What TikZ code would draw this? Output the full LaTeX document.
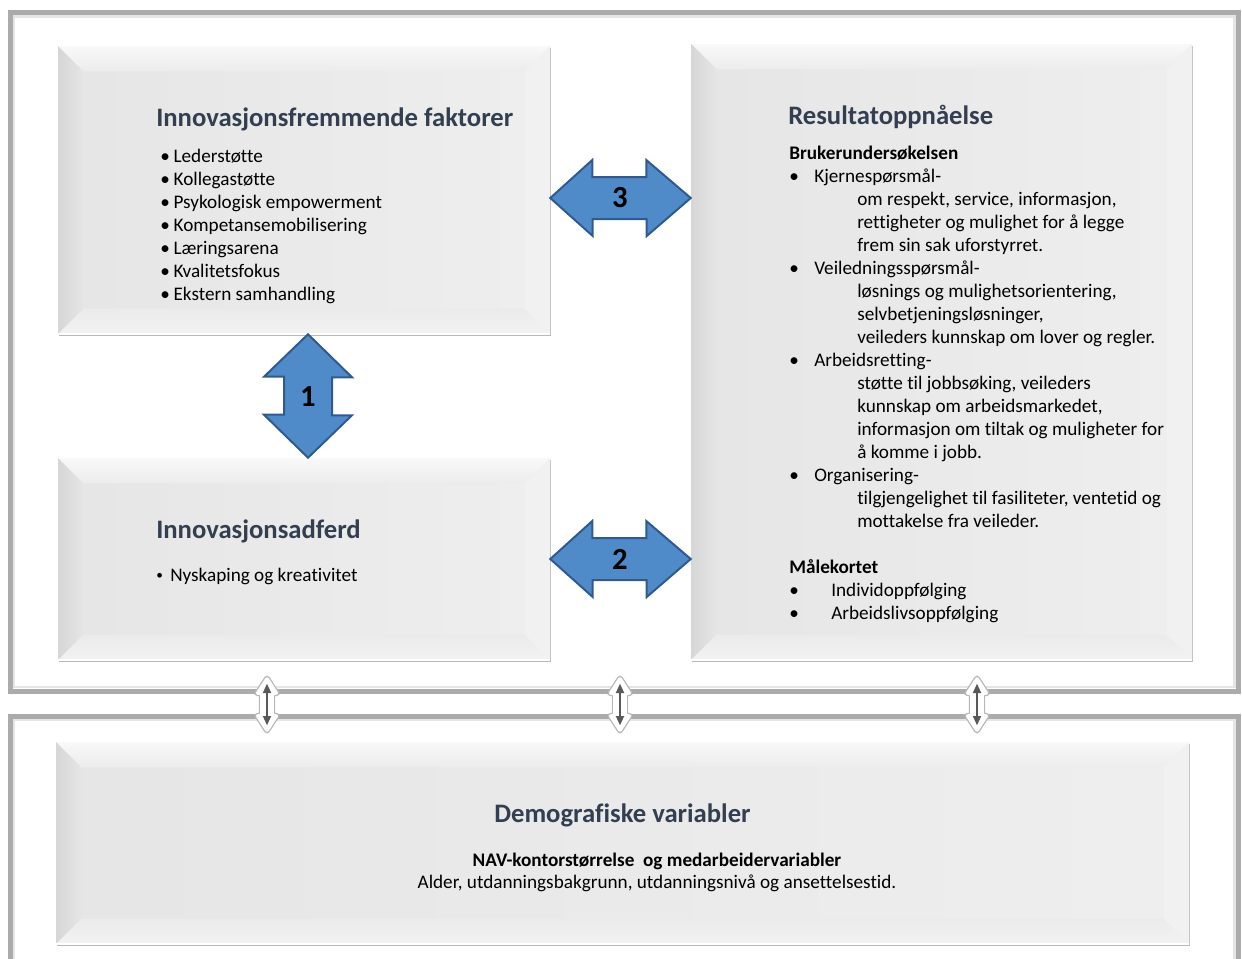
\documentclass[tikz,border=0pt]{standalone}
\usepackage{fontspec}
\setmainfont[Ligatures=NoCommon]{Carlito}
\usetikzlibrary{calc,shadows,arrows.meta}
\definecolor{titlegray}{RGB}{51,63,80}
\definecolor{arrowfill}{RGB}{80,139,201}
\definecolor{arrowedge}{RGB}{48,90,143}
\newcommand{\bev}{19pt}
\newcommand{\itembul}[1][18.75pt]{\makebox[#1][l]{\textbullet}}
\newcommand{\subind}{\hspace*{51pt}}
\tikzset{>={Triangle[width=6pt,length=7pt]}}
\tikzset{
  frame/.style={draw=black!33, line width=3.75pt},
  frameglow/.style={draw=black!10, line width=2pt},
  bevelbox/.style={
    inner sep=0pt, left color=gray!20, right color=gray!13,
    drop shadow={shadow xshift=0.8pt, shadow yshift=-1.8pt, opacity=0.5, fill=black!55},
    path picture={
      \coordinate (pp-nw) at (path picture bounding box.north west);
      \coordinate (pp-ne) at (path picture bounding box.north east);
      \coordinate (pp-sw) at (path picture bounding box.south west);
      \coordinate (pp-se) at (path picture bounding box.south east);
      % bevel edges
      \shade[top color=gray!5, bottom color=gray!15] (pp-nw) -- (pp-ne) -- ([shift={(-\bev,-\bev)}]pp-ne) -- ([shift={(\bev,-\bev)}]pp-nw) -- cycle;
      \shade[left color=gray!32, right color=gray!20] (pp-nw) -- ([shift={(\bev,-\bev)}]pp-nw) -- ([shift={(\bev,\bev)}]pp-sw) -- (pp-sw) -- cycle;
      \fill[gray!11] (pp-ne) -- (pp-se) -- ([shift={(-\bev,\bev)}]pp-se) -- ([shift={(-\bev,-\bev)}]pp-ne) -- cycle;
      \shade[top color=gray!16, bottom color=gray!10] (pp-sw) -- ([shift={(\bev,\bev)}]pp-sw) -- ([shift={(-\bev,\bev)}]pp-se) -- (pp-se) -- cycle;
      \draw[white, line width=1.2pt] (pp-sw) -- (pp-se);
    }
  },
  boxtitle/.style={anchor=base west, inner sep=0pt, text=titlegray, font=\fontsize{20}{24}\selectfont\bfseries},
  textblock/.style={anchor=north west, inner sep=0pt, align=left, font=\fontsize{14.4}{17.25}\selectfont},
  bodyline/.style={anchor=base, inner sep=0pt, font=\fontsize{14.4}{17.25}\selectfont},
  bigarrow/.style={fill=arrowfill, draw=arrowedge, line width=1.5pt, line join=miter},
  num/.style={inner sep=0pt, font=\fontsize{23}{23}\selectfont\bfseries},
  linkout/.style={fill=white, draw=white, line width=1.2pt, line join=round, rounded corners=1.5pt,
    preaction={draw=black!28, line width=3.2pt}},
  linkin/.style={<->, draw=black!65, line width=1.3pt}
}

\begin{document}
\begin{tikzpicture}[x=0.75pt,y=-0.75pt]
  \path[use as bounding box] (0,0) rectangle (1242,958);
  \clip (0,0) rectangle (1242,958);
  % frames
  \draw[frameglow] (14,16.5) rectangle (1234.5,687);
  \draw[frameglow] (14,720) rectangle (1234.5,990);
  \draw[frame] (10,12.5) rectangle (1238.5,691);
  \draw[frame] (10,716) rectangle (1238.5,990);

  % boxes
  \node[bevelbox, minimum width=369pt, minimum height=216pt] (boxA) at (304,190) {};
  \node[bevelbox, minimum width=369pt, minimum height=151.5pt] (boxB) at (304,559) {};
  \node[bevelbox, minimum width=375.75pt, minimum height=462pt] (boxC) at (941.5,352) {};
  \node[bevelbox, minimum width=849.75pt, minimum height=151.5pt] (boxD) at (622.5,843) {};

  % box A
  \node[boxtitle] (titleA) at (156,126.7) {Innovasjonsfremmende faktorer};
  \node[textblock] (listA) at (160,146) {\strut\itembul[10pt]Lederstøtte\\
    \itembul[10pt]Kollegastøtte\\
    \itembul[10pt]Psykologisk empowerment\\
    \itembul[10pt]Kompetansemobilisering\\
    \itembul[10pt]Læringsarena\\
    \itembul[10pt]Kvalitetsfokus\\
    \itembul[10pt]Ekstern samhandling};

  % box B
  \node[boxtitle] (titleB) at (156,538.5) {Innovasjonsadferd};
  \node[bodyline, anchor=base west] (listB) at (156,581) {\makebox[10.5pt][l]{\raisebox{1pt}{\fontsize{10}{10}\selectfont\textbullet}}Nyskaping og kreativitet};

  % box C
  \node[boxtitle] (titleC) at (788,124.5) {Resultatoppnåelse};
  \node[textblock] (listC) at (789,143.4) {\strut\textbf{Brukerundersøkelsen}\\
    \itembul Kjernespørsmål-\\
    \subind om respekt, service, informasjon,\\
    \subind rettigheter og mulighet for å legge\\
    \subind frem sin sak uforstyrret.\\
    \itembul Veiledningsspørsmål-\\
    \subind løsnings og mulighetsorientering,\\
    \subind selvbetjeningsløsninger,\\
    \subind veileders kunnskap om lover og regler.\\
    \itembul Arbeidsretting-\\
    \subind støtte til jobbsøking, veileders\\
    \subind kunnskap om arbeidsmarkedet,\\
    \subind informasjon om tiltak og muligheter for\\
    \subind å komme i jobb.\\
    \itembul Organisering-\\
    \subind tilgjengelighet til fasiliteter, ventetid og\\
    \subind mottakelse fra veileder.\\
    \mbox{}\\
    \textbf{Målekortet}\\
    \itembul[31.5pt]Individoppfølging\\
    \itembul[31.5pt]Arbeidslivsoppfølging};

  % box D
  \node[boxtitle, anchor=base] (titleD) at (622.5,822.5) {Demografiske variabler};
  \node[bodyline, font=\fontsize{14.4}{17.25}\selectfont\bfseries] (demoA) at (657,866) {NAV-kontorstørrelse\ \ og medarbeidervariabler};
  \node[bodyline] (demoB) at (657,888.5) {Alder, utdanningsbakgrunn, utdanningsnivå og ansettelsestid.};

  % blue arrows
  \node[num] (n3) at (620,198) {};
  \node[num] (n2) at (620,559) {};
  \node[num] (n1) at (308,397) {};
  \draw[bigarrow] (boxA.east |- n3) -- ++(42,-38) -- ++(0,17) -- ++(54,0) -- ++(0,-17)
    -- (boxC.west |- n3) -- ++(-44,38) -- ++(0,-17) -- ++(-54,0) -- ++(0,17) -- cycle;
  \draw[bigarrow] (boxB.east |- n2) -- ++(42,-38) -- ++(0,17) -- ++(54,0) -- ++(0,-17)
    -- (boxC.west |- n2) -- ++(-44,38) -- ++(0,-17) -- ++(-54,0) -- ++(0,17) -- cycle;
  \draw[bigarrow] (boxA.south -| n1) -- ++(44,43) -- ++(-20,0) -- ++(0,38) -- ++(20,0)
    -- (boxB.north -| n1) -- ++(-44,-43) -- ++(20,0) -- ++(0,-38) -- ++(-20,0) -- cycle;
  \node[num] at (n3) {3};
  \node[num] at (n2) {2};
  \node[num] at (n1) {1};

  % small links between the frames
  \coordinate (top1) at (267,677);  \coordinate (bot1) at (267,732);
  \coordinate (top2) at (620,677);  \coordinate (bot2) at (620,732);
  \coordinate (top3) at (977,677);  \coordinate (bot3) at (977,732);
  \draw[linkout] (top1) -- ++(11,17) -- ++(-5,0) -- ++(0,21) -- ++(5,0) -- (bot1)
    -- ++(-11,-17) -- ++(5,0) -- ++(0,-21) -- ++(-5,0) -- cycle;
  \draw[linkin] ([yshift=-5pt]top1) -- ([yshift=5pt]bot1);
  \draw[linkout] (top2) -- ++(11,17) -- ++(-5,0) -- ++(0,21) -- ++(5,0) -- (bot2)
    -- ++(-11,-17) -- ++(5,0) -- ++(0,-21) -- ++(-5,0) -- cycle;
  \draw[linkin] ([yshift=-5pt]top2) -- ([yshift=5pt]bot2);
  \draw[linkout] (top3) -- ++(11,17) -- ++(-5,0) -- ++(0,21) -- ++(5,0) -- (bot3)
    -- ++(-11,-17) -- ++(5,0) -- ++(0,-21) -- ++(-5,0) -- cycle;
  \draw[linkin] ([yshift=-5pt]top3) -- ([yshift=5pt]bot3);
\end{tikzpicture}
\end{document}
